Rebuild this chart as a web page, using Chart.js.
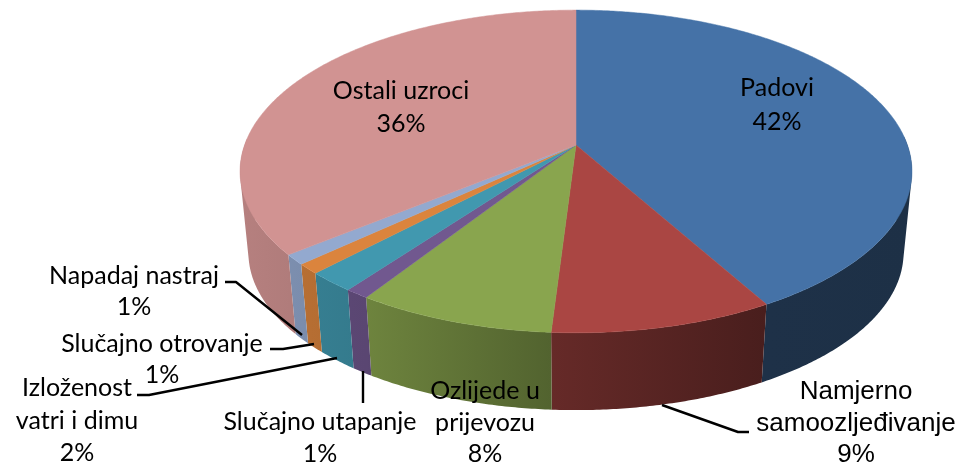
<!DOCTYPE html>
<html><head><meta charset="utf-8">
<style>html,body{margin:0;padding:0;background:#fff}canvas{display:block}</style>
<script src="https://cdn.jsdelivr.net/npm/chart.js@4"></script>
</head><body><canvas id="c" width="961" height="464" style="width:961px;height:464px"></canvas>
<script>
const categories = ["Padovi","Namjerno samoozljeđivanje","Ozlijede u prijevozu","Slučajno utapanje","Izloženost vatri i dimu","Slučajno otrovanje","Napadaj nastraj","Ostali uzroci"];
const shares = [41.8,9.2,8.2,1.0,2.0,1.0,1.0,35.8];
const sliceColors = ["#4572a7","#aa4643","#89a54e","#71588f","#4198af","#db843d","#93a9cf","#d19392"];

// label layout: wrapped lines, centre x, baseline-middle y for each line, font
const labelLayout = [
  {lines:["Padovi"],x:777,ys:[88,122],font:"25px Lato"},
  {lines:["Namjerno","samoozljeđivanje"],x:856,ys:[392,424,455],font:"26px 'Liberation Sans'"},
  {lines:["Ozlijede u","prijevozu"],x:485,ys:[391,423,454],font:"25px Lato"},
  {lines:["Slučajno utapanje"],x:320,ys:[422,454],font:"25px Lato"},
  {lines:["Izloženost","vatri i dimu"],x:77,ys:[388,421,453],font:"25px Lato"},
  {lines:["Slučajno otrovanje"],x:162,ys:[344,375],font:"25px Lato"},
  {lines:["Napadaj nastraj"],x:134,ys:[276,307],font:"25px Lato"},
  {lines:["Ostali uzroci"],x:401,ys:[91,124],font:"25px Lato"}
];
const leaderLines = [
  [[225,282],[236,282],[302,335]],
  [[270,349],[283,349],[314,344]],
  [[137,395],[149,395],[337,358]],
  [[363,371],[363,403]],
  [[662,405],[738,432],[749,432]]
];

// perspective disk: top plane and slightly smaller bottom plane
const view = {cx:576, cyTop:145, cyBottom:227, R:331.4, S:157, k:0.164, bottomScale:0.975};
function project(a, plane){
  const u=Math.cos(a), v=Math.sin(a), w=1-view.k*v;
  const s = plane==="top"?1:view.bottomScale;
  const cy = plane==="top"?view.cyTop:view.cyBottom;
  return [view.cx+s*view.R*u/w, cy+s*view.S*v/w];
}
const shadeX=[240,366,551,766,912], shadeF=[0.87,0.80,0.60,0.43,0.42];
function shade(hex,f){
  const n=parseInt(hex.slice(1),16);
  return `rgb(${Math.round((n>>16&255)*f)},${Math.round((n>>8&255)*f)},${Math.round((n&255)*f)})`;
}
const pie3d = {
  id:"pie3d",
  beforeDatasetDraw(chart,args){
    const ctx=chart.ctx, arcs=args.meta.data, step=Math.PI/360;
    ctx.save();
    // walls: one path per slice, lit by a horizontal gradient
    arcs.forEach((arc,i)=>{
      const g=ctx.createLinearGradient(shadeX[0],0,shadeX[shadeX.length-1],0);
      shadeX.forEach((x,j)=>g.addColorStop((x-shadeX[0])/(shadeX[shadeX.length-1]-shadeX[0]),shade(sliceColors[i],shadeF[j])));
      ctx.beginPath();
      for(let a=arc.startAngle;a<arc.endAngle-1e-6;a+=step){
        const b=Math.min(a+step,arc.endAngle);
        if(Math.sin((a+b)/2)<-0.05) continue;
        let p=[project(a,"top"),project(b,"top"),project(b,"bottom"),project(a,"bottom")];
        let area=0;
        p.forEach((q,j)=>{const r=p[(j+1)%4];area+=q[0]*r[1]-r[0]*q[1];});
        if(area<0) p=p.reverse();
        p.forEach((q,j)=>j?ctx.lineTo(q[0],q[1]):ctx.moveTo(q[0],q[1]));ctx.closePath();
      }
      ctx.fillStyle=g;ctx.fill("nonzero");
    });
    // top face
    arcs.forEach((arc,i)=>{
      ctx.beginPath();ctx.moveTo(view.cx,view.cyTop);
      for(let a=arc.startAngle;a<arc.endAngle;a+=step){const q=project(a,"top");ctx.lineTo(q[0],q[1]);}
      const e=project(arc.endAngle,"top");ctx.lineTo(e[0],e[1]);ctx.closePath();
      ctx.fillStyle=sliceColors[i];ctx.strokeStyle=sliceColors[i];ctx.lineWidth=0.5;ctx.fill();ctx.stroke();
    });
    ctx.restore();
    return false;
  },
  afterDatasetsDraw(chart){
    const ctx=chart.ctx;
    ctx.save();
    ctx.strokeStyle="#000";ctx.lineWidth=2.4;ctx.lineJoin="round";
    leaderLines.forEach(l=>{ctx.beginPath();l.forEach((p,j)=>j?ctx.lineTo(p[0],p[1]):ctx.moveTo(p[0],p[1]));ctx.stroke();});
    ctx.fillStyle="#000";ctx.textAlign="center";ctx.textBaseline="middle";
    labelLayout.forEach((l,i)=>{
      ctx.font=l.font;
      const texts=[...l.lines,Math.round(shares[i])+"%"];
      texts.forEach((t,j)=>ctx.fillText(t,l.x,l.ys[j]));
    });
    ctx.restore();
  }
};
new Chart(document.getElementById("c"),{
  type:"pie",
  data:{labels:categories,datasets:[{data:shares,backgroundColor:sliceColors,borderWidth:0}]},
  options:{responsive:false,animation:false,devicePixelRatio:1,plugins:{legend:{display:false},tooltip:{enabled:false}}},
  plugins:[pie3d]
});
</script></body></html>
